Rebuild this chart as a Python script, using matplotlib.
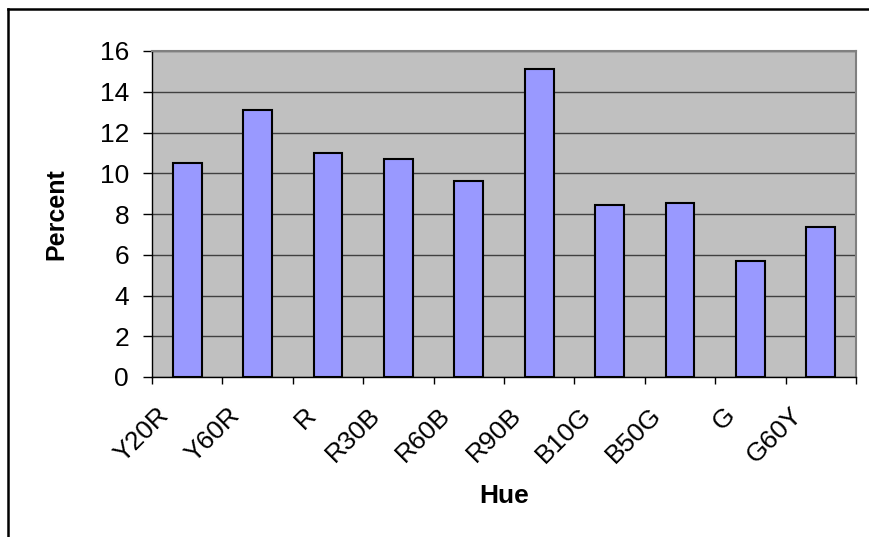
import matplotlib

matplotlib.use("Agg")
import matplotlib.pyplot as plt
import matplotlib.transforms as mtransforms
from matplotlib.lines import Line2D
import numpy as np

plt.rcParams["font.family"] = ["Liberation Sans", "DejaVu Sans"]

HUES = ["Y20R", "Y60R", "R", "R30B", "R60B", "R90B", "B10G", "B50G", "G", "G60Y"]
PERCENT = [10.5, 13.1, 11.0, 10.7, 9.6, 15.1, 8.45, 8.55, 5.7, 7.35]
Y_TICKS = [0, 2, 4, 6, 8, 10, 12, 14, 16]

# per-label nudges in pixels (Excel shifts the one-letter labels a little)
LABEL_NUDGE = {"R": (6, 0), "G": (3, 0)}

W, H = 869, 537
fig = plt.figure(figsize=(W / 100, H / 100), dpi=100)
ax = fig.add_axes([152 / W, 1 - 377 / H, (856 - 152) / W, (377 - 51) / H])

x = np.arange(len(HUES))
ax.set_facecolor("#C0C0C0")
ax.bar(x, PERCENT, width=0.41, color="#9999FF", edgecolor="black", linewidth=1.5, zorder=3)

ax.set_xlim(-0.5, len(HUES) - 0.5)
ax.set_ylim(0, 16)
ax.set_yticks(Y_TICKS)
ax.yaxis.grid(True, color="#404040", linewidth=1.0, zorder=1)
ax.set_axisbelow(True)

ax.set_xticks(np.arange(len(HUES) + 1) - 0.5)
ax.set_xticklabels([])
ax.set_xticks(x, minor=True)
ax.set_xticklabels(HUES, minor=True, rotation=45, ha="right", va="center",
                   rotation_mode="anchor", fontsize=19)
ax.tick_params(axis="x", which="major", direction="out", length=5, width=1, color="black")
ax.tick_params(axis="x", which="minor", length=0, pad=25)
ax.tick_params(axis="y", direction="out", length=6.5, width=1, pad=10, labelsize=19)

for lab in ax.get_xticklabels(minor=True):
    dx, dy = LABEL_NUDGE.get(lab.get_text(), (0, 0))
    off = mtransforms.ScaledTranslation((dx - 22) / 100, dy / 100, fig.dpi_scale_trans)
    lab.set_transform(lab.get_transform() + off)

for side in ["top", "right"]:
    ax.spines[side].set_color("#808080")
    ax.spines[side].set_linewidth(1.5)
for side in ["left", "bottom"]:
    ax.spines[side].set_color("black")
    ax.spines[side].set_linewidth(1.0)

fig.text(56 / W, 1 - 214 / H, "Percent", rotation=90, ha="center", va="center",
         fontsize=18, fontweight="bold")
fig.text(504 / W, 1 - 496 / H, "Hue", ha="center", va="center",
         fontsize=19, fontweight="bold")

# outer chart border (cut off on the right and bottom)
fig.add_artist(Line2D([8 / W, 1], [1 - 9 / H, 1 - 9 / H], color="black", linewidth=1.8))
fig.add_artist(Line2D([8 / W, 8 / W], [0, 1 - 9 / H], color="black", linewidth=1.8))

fig.savefig("out.png", dpi=100)
